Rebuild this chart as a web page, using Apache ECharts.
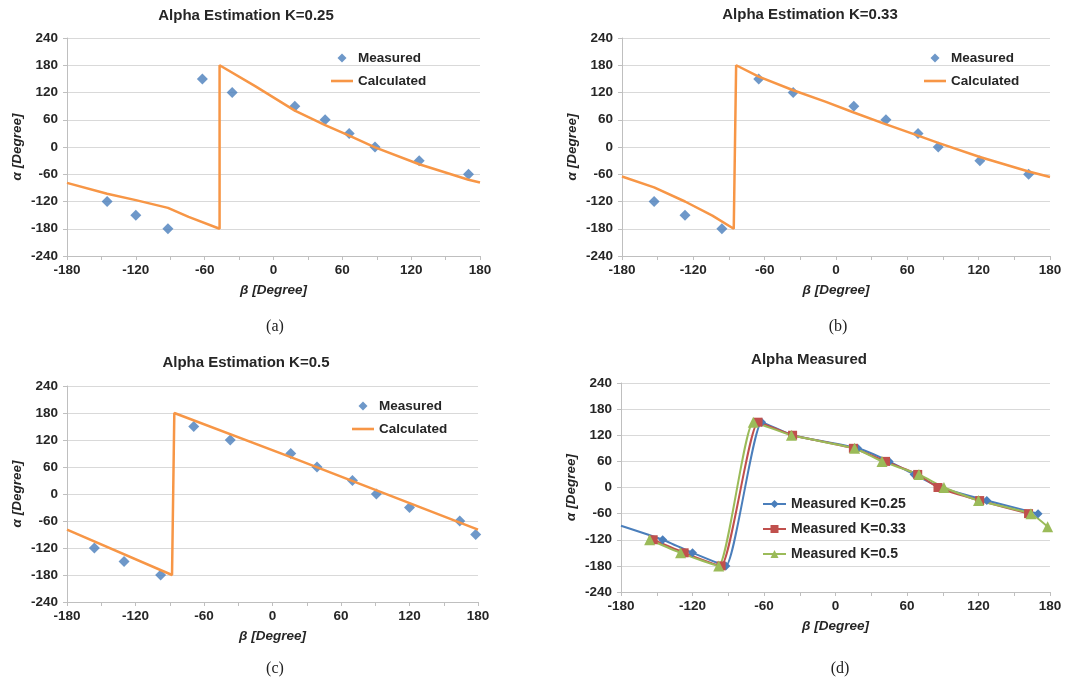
<!DOCTYPE html>
<html>
<head>
<meta charset="utf-8">
<script src="https://cdn.jsdelivr.net/npm/echarts@6/dist/echarts.min.js"></script>
<style>
  html, body { margin: 0; background: #fff; }
  #main { width: 1072px; height: 682px; }
</style>
</head>
<body>
<div id="main"></div>
<script>
// measured alpha vs beta, one set per K
const betaK25 = [-145, -120, -92, -62, -36, 18.6, 45, 66, 88.5, 127, 170]
const alphaK25 = [-120, -150, -180, 150, 120, 90, 60, 30, 0, -30, -60]
const betaK33 = [-153, -127, -96, -65, -36, 15, 42, 69, 86, 121, 162]
const alphaK33 = [-120, -150, -180, 150, 120, 90, 60, 30, 0, -30, -60]
const betaK5 = [-156, -130, -98, -69, -37, 16, 39, 70, 91, 120, 164, 178]
const alphaK5 = [-120, -150, -180, 150, 120, 90, 60, 30, 0, -30, -60, -90]

// calculated curves (jump = two points at the same beta)
const calcBetaK25 = [-180, -145, -120, -92, -74, -47, -47, -16, 18.6, 45, 66, 88.5, 127, 170, 180]
const calcAlphaK25 = [-79, -103, -117, -134, -154, -180, 180, 134, 80, 48, 25, -1, -38, -72, -78]
const calcBetaK33 = [-180, -153, -127, -104, -86, -84, -65, -36, -9, 15, 41, 69, 86, 121, 162, 180]
const calcAlphaK33 = [-65, -89, -120, -151, -180, 180, 155, 125, 100, 76, 51, 25, 9, -22, -54, -66]
const calcBetaK5 = [-180, -88, -86, 16, 180]
const calcAlphaK5 = [-79, -180, 180, 82, -79]

// panel (d): the K=0.25 line runs in from the left edge
const leadK25 = [-180, -88]

const titles = ['Alpha Estimation K=0.25', 'Alpha Estimation K=0.33', 'Alpha Estimation K=0.5', 'Alpha Measured']
const captions = ['(a)', '(b)', '(c)', '(d)']

const FONT = '"Liberation Sans", Arial, sans-serif'
const INK = '#262626'
const BLUE = '#4a7ebb', ORANGE = '#f79646', RED = '#c0504d', GREEN = '#9bbb59'

const grids = [
  { left: 67, top: 38, width: 413, height: 218 },
  { left: 622, top: 38, width: 428, height: 218 },
  { left: 67, top: 386, width: 411, height: 216 },
  { left: 621, top: 383, width: 429, height: 209 }
]
const titlePos = [[246, 16], [810, 15], [246, 363], [809, 360]]
const captionPos = [[275, 327], [838, 327], [275, 669], [840, 669]]

const pair = (xs, ys) => xs.map((x, i) => [x, ys[i]])

const labelStyle = { color: INK, fontFamily: FONT, fontWeight: 'bold', fontSize: 13.5 }
const nameStyle = { color: INK, fontFamily: FONT, fontWeight: 'bold', fontStyle: 'italic', fontSize: 13.5 }
const grey = { color: '#bfbfbf', width: 1 }

const xAxes = grids.map((g, i) => ({
  gridIndex: i,
  type: 'value',
  min: -180, max: 180, interval: 60,
  name: 'β [Degree]', nameLocation: 'middle', nameGap: 27,
  nameTextStyle: nameStyle,
  axisLine: { onZero: false, lineStyle: grey },
  axisTick: { show: true, length: 4, lineStyle: grey },
  minorTick: { show: true, splitNumber: 2, length: 4, lineStyle: grey },
  splitLine: { show: false },
  axisLabel: { ...labelStyle, margin: 7 }
}))

const yAxes = grids.map((g, i) => ({
  gridIndex: i,
  type: 'value',
  min: -240, max: 240, interval: 60,
  name: 'α [Degree]', nameLocation: 'middle', nameGap: 43, nameRotate: 90,
  nameTextStyle: nameStyle,
  axisLine: { show: true, onZero: false, lineStyle: grey },
  axisTick: { show: true, length: 4, lineStyle: grey },
  splitLine: { show: true, lineStyle: { color: '#d9d9d9', width: 1.2 } },
  axisLabel: { ...labelStyle, margin: 9 }
}))

const measured = (i, xs, ys) => ({
  name: 'Measured', type: 'scatter',
  xAxisIndex: i, yAxisIndex: i,
  symbol: 'diamond', symbolSize: 11,
  itemStyle: { color: BLUE },
  data: pair(xs, ys)
})
const calculated = (i, xs, ys) => ({
  name: 'Calculated', type: 'line',
  xAxisIndex: i, yAxisIndex: i,
  symbol: 'none',
  lineStyle: { color: ORANGE, width: 2.5 },
  itemStyle: { color: ORANGE },
  data: pair(xs, ys)
})
const measuredLine = (name, xs, ys, color, symbol, size) => ({
  name, type: 'line',
  xAxisIndex: 3, yAxisIndex: 3,
  smooth: 0.15,
  symbol, symbolSize: size,
  lineStyle: { color, width: 2 },
  itemStyle: { color },
  data: pair(xs, ys)
})

const blueData = [{ value: leadK25, symbol: 'none' }].concat(pair(betaK25, alphaK25))

const series = [
  measured(0, betaK25, alphaK25),
  calculated(0, calcBetaK25, calcAlphaK25),
  measured(1, betaK33, alphaK33),
  calculated(1, calcBetaK33, calcAlphaK33),
  measured(2, betaK5, alphaK5),
  calculated(2, calcBetaK5, calcAlphaK5),
  { ...measuredLine('Measured K=0.25', betaK25, alphaK25, BLUE, 'diamond', 9), data: blueData },
  measuredLine('Measured K=0.33', betaK33, alphaK33, RED, 'rect', 9),
  measuredLine('Measured K=0.5', betaK5, alphaK5, GREEN, 'triangle', 11)
]

const legendText = { color: INK, fontFamily: FONT, fontWeight: 'bold', fontSize: 13.5 }
const legendItems = [
  { name: 'Measured', icon: 'path://M5,0L10,5L5,10L0,5Z' },
  { name: 'Calculated', icon: 'path://M0,0L22,0L22,2.6L0,2.6Z' }
]
const legends = [
  { left: 331, top: 51 },
  { left: 924, top: 51 },
  { left: 352, top: 399 }
].map(l => ({ ...l, data: legendItems, orient: 'vertical', padding: 0, itemGap: 9, itemWidth: 22, itemHeight: 9, textStyle: legendText }))
legends.push({
  data: ['Measured K=0.25', 'Measured K=0.33', 'Measured K=0.5'],
  left: 762, top: 497, orient: 'vertical', padding: 0, itemGap: 11, itemWidth: 23, itemHeight: 10,
  textStyle: { ...legendText, fontSize: 14 }
})

const graphics = []
titles.forEach((t, i) => graphics.push({
  type: 'text', x: titlePos[i][0], y: titlePos[i][1],
  style: { text: t, fill: INK, font: 'bold 15px ' + FONT, textAlign: 'center', textVerticalAlign: 'middle' }
}))
captions.forEach((t, i) => graphics.push({
  type: 'text', x: captionPos[i][0], y: captionPos[i][1],
  style: { text: t, fill: '#222', font: '16px "Liberation Serif", "Times New Roman", serif', textAlign: 'center', textVerticalAlign: 'middle' }
}))

const chart = echarts.init(document.getElementById('main'))
chart.setOption({
  animation: false,
  backgroundColor: '#fff',
  grid: grids,
  xAxis: xAxes,
  yAxis: yAxes,
  legend: legends,
  series,
  graphic: graphics
})
</script>
</body>
</html>
